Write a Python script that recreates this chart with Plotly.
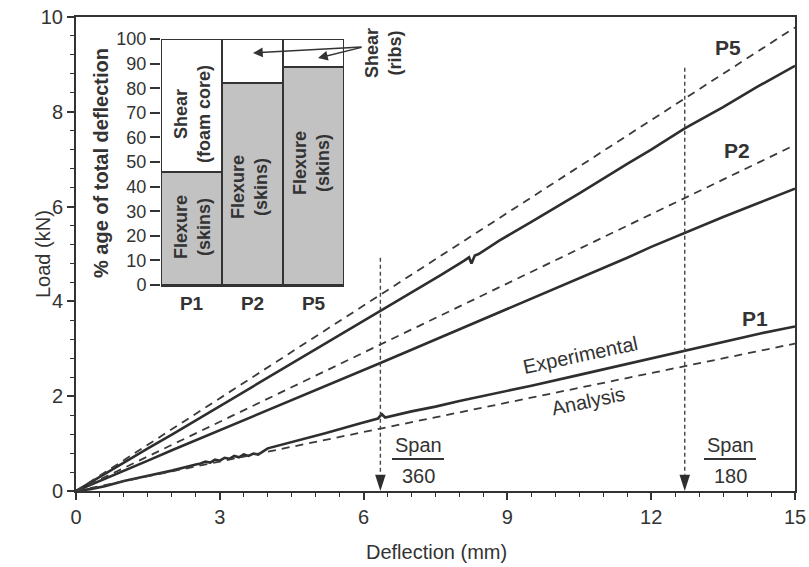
import plotly.graph_objects as go

# ---------------- data ----------------
# Experimental load-deflection curves
p1_defl = [0, 0.3, 0.6, 1.0, 1.5, 2.0, 2.5, 2.6, 2.7, 2.8, 2.9, 3.0, 3.1, 3.2, 3.3, 3.4, 3.5, 3.6, 3.7, 3.8,
           4.0, 4.3, 4.7, 5.2, 5.9, 6.3, 6.38, 6.45, 7.0, 7.5, 8.0, 8.8, 9.5, 10.5, 11.5, 12.0, 12.7, 13.5, 14.3, 15.0]
p1_load = [0, 0.04, 0.10, 0.21, 0.32, 0.43, 0.56, 0.58, 0.62, 0.60, 0.66, 0.64, 0.70, 0.68, 0.74, 0.71, 0.77, 0.74, 0.79, 0.77,
           0.90, 0.98, 1.08, 1.22, 1.42, 1.53, 1.62, 1.55, 1.68, 1.78, 1.90, 2.07, 2.22, 2.45, 2.68, 2.80, 2.97, 3.15, 3.33, 3.47]

p2_defl = [0, 0.5, 1.0, 1.5, 2.0, 2.5, 3.0, 3.6, 4.2, 5.0, 5.8, 6.35, 7.0, 8.0, 8.8, 9.5, 10.5, 11.5, 12.0, 12.7, 13.5, 14.2, 15.0]
p2_load = [0, 0.21, 0.43, 0.64, 0.86, 1.07, 1.28, 1.53, 1.78, 2.12, 2.46, 2.70, 2.98, 3.41, 3.76, 4.06, 4.49, 4.92, 5.15, 5.45, 5.78, 6.06, 6.38]

p5_defl = [0, 0.5, 1.0, 1.5, 2.0, 2.5, 3.0, 3.6, 4.2, 5.0, 5.8, 6.35, 7.0, 7.6, 8.1, 8.2, 8.25, 8.32, 8.4, 8.83, 9.5, 10.5, 11.5, 12.0, 12.7, 13.5, 14.2, 15.0]
p5_load = [0, 0.30, 0.61, 0.90, 1.19, 1.49, 1.79, 2.15, 2.51, 2.99, 3.46, 3.80, 4.19, 4.55, 4.86, 4.93, 4.80, 4.97, 5.00, 5.28, 5.68, 6.28, 6.90, 7.20, 7.65, 8.10, 8.52, 8.97]

# Analysis (straight lines)
analysis_defl = [0, 15]
p1_analysis = [0, 3.11]
p2_analysis = [0, 7.30]
p5_analysis = [0, 9.78]

# Serviceability limits  (span/360, span/180)
span_defl = [6.35, 12.7]
span_top_load = [4.92, 8.93]
span_denoms = ["360", "180"]

# Inset: % age of total deflection
inset_cats = ["P1", "P2", "P5"]
inset_flexure = [46, 82, 88.5]
inset_shear = [54, 18, 11.5]

# ---------------- styling helpers ----------------
FONT = "Liberation Sans, Arial, Helvetica, sans-serif"
INK = "#2e2e2e"
L, R, T, B = 76, 795, 17, 491
W, H = 809, 567


def px(xp):
    return (xp - L) / (R - L)


def py(yp):
    return (B - yp) / (B - T)


fig = go.Figure()

solid = dict(color=INK, width=2.6)
dashed = dict(color="#3a3a3a", width=1.8, dash="8px,6px")

for d, l in [(p1_defl, p1_load), (p2_defl, p2_load), (p5_defl, p5_load)]:
    fig.add_trace(go.Scatter(x=d, y=l, mode="lines", line=solid, showlegend=False,
                             hoverinfo="skip"))
for a in [p1_analysis, p2_analysis, p5_analysis]:
    fig.add_trace(go.Scatter(x=analysis_defl, y=a, mode="lines", line=dashed, showlegend=False,
                             hoverinfo="skip"))

# span limit dashed verticals
for sx, top in zip(span_defl, span_top_load):
    fig.add_trace(go.Scatter(x=[sx, sx], y=[top, 0.35], mode="lines",
                             line=dict(color="#444444", width=1.4, dash="4px,3px"),
                             showlegend=False, hoverinfo="skip"))
fig.add_trace(go.Scatter(x=span_defl, y=[0, 0], mode="markers",
                         marker=dict(symbol="arrow", angle=180, size=17, color=INK),
                         cliponaxis=False, showlegend=False, hoverinfo="skip"))

# inset bars
fig.add_trace(go.Bar(x=inset_cats, y=inset_flexure, xaxis="x2", yaxis="y2",
                     marker=dict(color="#c2c2c2", line=dict(color="#333333", width=2)),
                     showlegend=False, hoverinfo="skip"))
fig.add_trace(go.Bar(x=inset_cats, y=inset_shear, xaxis="x2", yaxis="y2",
                     marker=dict(color="white", line=dict(color="#333333", width=2)),
                     showlegend=False, hoverinfo="skip"))

axis_common = dict(showgrid=False, zeroline=False, showline=True, linecolor="#333333",
                   linewidth=2, mirror=True, ticks="outside", ticklen=7, tickwidth=1.5,
                   automargin=False,
                   tickcolor="#333333", tickfont=dict(family=FONT, size=20, color="#333333"))

fig.update_layout(
    width=W, height=H,
    margin=dict(l=L, r=W - R, t=T, b=H - B, autoexpand=False),
    paper_bgcolor="white", plot_bgcolor="white",
    barmode="stack", bargap=0,
    xaxis=dict(range=[0, 15], tickmode="array", tickvals=[0, 3, 6, 9, 12, 15],
               minor=dict(dtick=0.5, ticklen=4, ticks="outside", tickcolor="#333333", tickwidth=1.2),
               **axis_common),
    yaxis=dict(range=[0, 10], tickmode="array", tickvals=[0, 2, 4, 6, 8, 10],
               minor=dict(dtick=0.4, ticklen=4, ticks="outside", tickcolor="#333333", tickwidth=1.2),
               **axis_common),
    xaxis2=dict(domain=[px(161), px(344)], anchor="y2", range=[-0.5, 2.5], type="category",
                showline=True, linecolor="#333333", linewidth=2, ticks="", showgrid=False,
                automargin=False,
                tickfont=dict(family=FONT, size=19, color="#333333", weight="bold")),
    yaxis2=dict(domain=[py(285), py(39)], anchor="x2", range=[0, 100], dtick=10,
                showline=False, showgrid=False, zeroline=False, ticks="outside", ticklen=10,
                tickwidth=1.5, tickcolor="#333333", automargin=False,
                tickfont=dict(family=FONT, size=18, color="#333333")),
)

ann = []


def text(xp, yp, s, size=20, bold=False, angle=0):
    ann.append(dict(x=px(xp), y=py(yp), xref="paper", yref="paper", text=s, showarrow=False,
                    textangle=angle, xanchor="center", yanchor="middle",
                    font=dict(family=FONT, size=size, color="#333333",
                              weight="bold" if bold else "normal")))


# axis titles
text(436, 552, "Deflection (mm)", size=20)
text(43, 254, "Load (kN)", size=20, angle=-90)
text(101, 163, "% age of total deflection", size=20, bold=True, angle=-90)

# curve labels
text(728, 48, "P5", size=21, bold=True)
text(737, 150, "P2", size=21, bold=True)
text(755, 318, "P1", size=21, bold=True)
text(580, 355, "Experimental", size=20, angle=-12)
text(588, 401, "Analysis", size=20, angle=-12)

# span fractions
for sx, cx, den in zip(span_defl, [418, 730], span_denoms):
    text(cx, 445, "Span", size=20)
    text(cx, 476, den, size=20)
    fig.add_shape(type="line", xref="paper", yref="paper", x0=px(cx - 26), x1=px(cx + 26),
                  y0=py(459), y1=py(459), line=dict(color="#333333", width=2))

# inset bar texts
text(192, 114, "Shear<br>(foam core)", size=18, bold=True, angle=-90)
text(192, 227, "Flexure<br>(skins)", size=18, bold=True, angle=-90)
text(250, 187, "Flexure<br>(skins)", size=18, bold=True, angle=-90)
text(311, 163, "Flexure<br>(skins)", size=18, bold=True, angle=-90)
text(384, 53, "Shear<br>(ribs)", size=18, bold=True, angle=-90)

# arrows to rib shear portions
for hx, hy in [(253, 53), (318, 58)]:
    ann.append(dict(x=px(hx), y=py(hy), xref="paper", yref="paper", text="", showarrow=True,
                    ax=363 - hx, ay=47 - hy, axref="pixel", ayref="pixel",
                    arrowhead=2, arrowsize=1.3, arrowwidth=1.5, arrowcolor="#333333"))

fig.update_layout(annotations=ann)
fig.write_html("out.html")
